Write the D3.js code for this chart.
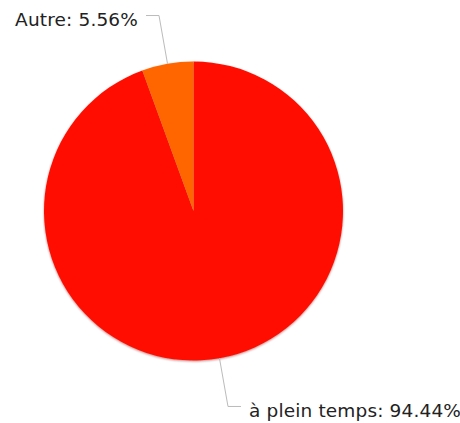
<!DOCTYPE html>
<html>
<head>
<meta charset="utf-8">
<script src="https://cdn.jsdelivr.net/npm/d3@7"></script>
<style>
  body { margin: 0; background: #fff; }
  svg { display: block; }
  text { font-family: "DejaVu Sans", Verdana, sans-serif; font-size: 18.5px; letter-spacing: 0.15px; fill: #222; }
</style>
</head>
<body>
<svg></svg>
<script>
var width = 460;
var height = 423;
var cx = 193.5, cy = 211, radius = 149.5;

// slices, in drawing order (clockwise from 12 o'clock)
var categories = ["à plein temps", "Autre"];
var values = [94.44, 5.56];
var colors = ["#FF1100", "#FF6600"];

var svg = d3.select("svg")
    .attr("width", width)
    .attr("height", height);

var defs = svg.append("defs");
var shadow = defs.append("filter")
    .attr("id", "edge")
    .attr("x", "-10%").attr("y", "-10%")
    .attr("width", "120%").attr("height", "120%");
shadow.append("feDropShadow")
    .attr("dx", 0).attr("dy", 1)
    .attr("stdDeviation", 1)
    .attr("flood-color", "#7a0000")
    .attr("flood-opacity", 0.45);

var data = categories.map(function (c, i) {
    return { name: c, value: values[i], color: colors[i] };
});

var pie = d3.pie()
    .sort(null)
    .value(function (d) { return d.value; });

var arc = d3.arc()
    .innerRadius(0)
    .outerRadius(radius);

var g = svg.append("g")
    .attr("transform", "translate(" + cx + "," + cy + ")");

var arcs = pie(data);

g.append("g")
    .attr("filter", "url(#edge)")
    .selectAll("path")
    .data(arcs)
    .enter()
    .append("path")
    .attr("d", arc)
    .style("fill", function (d) { return d.data.color; });

// leader lines + labels
var knee = radius + 49;
var tail = 13;
var gap = 8;

var labels = g.selectAll(".label")
    .data(arcs)
    .enter()
    .append("g")
    .attr("class", "label");

labels.append("polyline")
    .attr("points", function (d) {
        var a = (d.startAngle + d.endAngle) / 2;
        var p0 = [Math.sin(a) * radius, -Math.cos(a) * radius];
        var p1 = [Math.sin(a) * knee, -Math.cos(a) * knee];
        var side = Math.sin(a) < 0 ? -1 : 1;
        var p2 = [p1[0] + side * tail, p1[1]];
        return [p0, p1, p2].map(function (p) { return p.join(","); }).join(" ");
    })
    .style("fill", "none")
    .style("stroke", "#bbb")
    .style("stroke-width", 1);

labels.append("text")
    .attr("x", function (d) {
        var a = (d.startAngle + d.endAngle) / 2;
        var side = Math.sin(a) < 0 ? -1 : 1;
        return Math.sin(a) * knee + side * (tail + gap);
    })
    .attr("y", function (d) {
        var a = (d.startAngle + d.endAngle) / 2;
        return -Math.cos(a) * knee + 10.5;
    })
    .attr("text-anchor", function (d) {
        var a = (d.startAngle + d.endAngle) / 2;
        return Math.sin(a) < 0 ? "end" : "start";
    })
    .text(function (d) {
        return d.data.name + ": " + d3.format(".2f")(d.data.value) + "%";
    });
</script>
</body>
</html>
